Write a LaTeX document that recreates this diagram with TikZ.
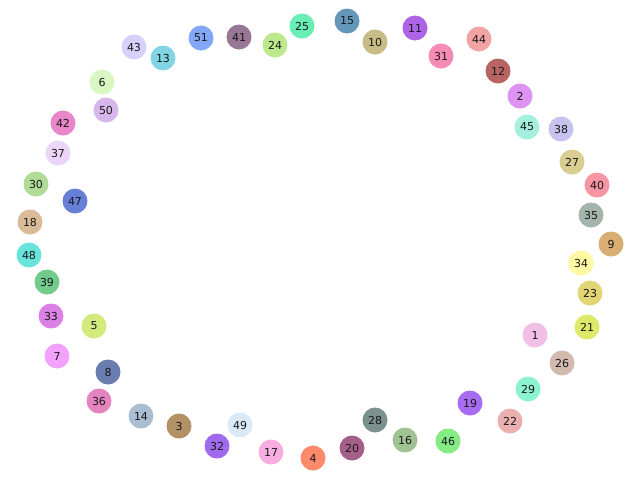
\documentclass[tikz,border=0pt]{standalone}
\usepackage{fontspec}
\setmainfont{DejaVu Sans}
\begin{document}
\begin{tikzpicture}[x=1pt,y=-1pt,
  nd/.style={circle,inner sep=0pt,minimum size=25pt,font=\fontsize{11}{12}\selectfont,text=black!90}]
\useasboundingbox[fill=white] (0,0) rectangle (640,480);
\def\N#1#2#3#4{\definecolor{c#1}{HTML}{#4}\node[nd,fill=c#1] (n#1) at (#2,#3) {#1};}
\N{1}{535}{335}{F0C0E6}
\N{2}{520}{96}{DE92F2}
\N{3}{179}{426}{B39167}
\N{4}{313}{458}{FF8A6B}
\N{5}{94}{326}{D3EB7C}
\N{6}{102}{82}{DAF7C3}
\N{7}{57}{356}{F2A2FD}
\N{8}{108}{372}{6A7DB0}
\N{9}{611}{244}{D8AE72}
\N{10}{375}{42}{C8BC86}
\N{11}{415}{28}{AE64E6}
\N{12}{498}{71}{B86462}
\N{13}{163}{58}{82D6E3}
\N{14}{141}{416}{A9BFD1}
\N{15}{347}{21}{6398BB}
\N{16}{405}{440}{A1C394}
\N{17}{271}{452}{F8ADE0}
\N{18}{30}{222}{DABB98}
\N{19}{470}{403}{A76CF1}
\N{20}{352}{448}{A5608A}
\N{21}{587}{327}{DDE968}
\N{22}{510}{421}{EAB0B0}
\N{23}{590}{293}{E2D576}
\N{24}{275}{45}{BDE98C}
\N{25}{302}{26}{68EFB5}
\N{26}{562}{363}{D2BAAF}
\N{27}{572}{162}{D9CD92}
\N{28}{375}{420}{7B918B}
\N{29}{528}{389}{8CF4CC}
\N{30}{36}{184}{B0DC98}
\N{31}{441}{56}{F78BB5}
\N{32}{217}{446}{A06AEE}
\N{33}{51}{316}{DB81E6}
\N{34}{581}{263}{FFF9A3}
\N{35}{591}{215}{A5B4AA}
\N{36}{99}{401}{E484BF}
\N{37}{58}{153}{EBD6F7}
\N{38}{561}{129}{C6C3EE}
\N{39}{47}{282}{72CB8D}
\N{40}{597}{185}{F795A3}
\N{41}{239}{37}{977793}
\N{42}{63}{123}{E987C9}
\N{43}{134}{47}{D6D0FA}
\N{44}{479}{39}{F2A4A5}
\N{45}{527}{127}{A5EFDE}
\N{46}{448}{441}{85EC85}
\N{47}{75}{201}{6580D6}
\N{48}{29}{255}{68E4DC}
\N{49}{240}{425}{DBE9F7}
\N{50}{106}{110}{D7B6EC}
\N{51}{201}{38}{82A6F8}
\end{tikzpicture}
\end{document}
